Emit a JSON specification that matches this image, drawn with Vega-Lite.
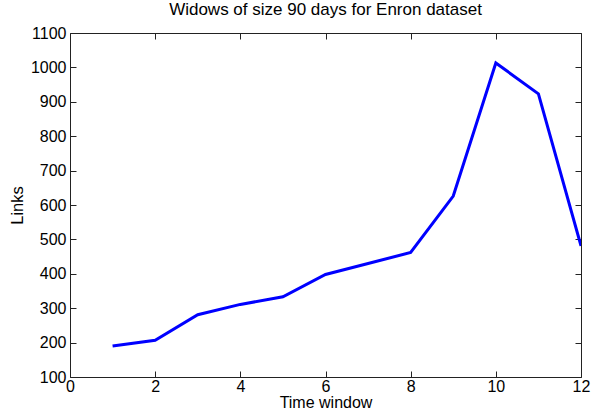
{
  "$schema": "https://vega.github.io/schema/vega-lite/v6.json",
  "width": 511,
  "height": 344,
  "autosize": {"type": "none"},
  "padding": {"left": 70, "top": 33, "right": 11, "bottom": 35},
  "background": "white",
  "config": {
    "view": {"stroke": "#222222", "strokeWidth": 1},
    "font": "Liberation Sans",
    "axis": {
      "grid": false,
      "domain": false,
      "tickColor": "#222222",
      "tickWidth": 1,
      "labelColor": "black",
      "titleColor": "black",
      "labelFont": "Liberation Sans",
      "titleFont": "Liberation Sans",
      "titleFontWeight": "normal",
      "format": "d"
    }
  },
  "title": {
    "text": "Widows of size 90 days for Enron dataset",
    "font": "Liberation Sans",
    "fontSize": 17,
    "fontWeight": "normal",
    "color": "black",
    "offset": 6
  },
  "data": {
    "values": [
      {"window": 1, "links": 190},
      {"window": 2, "links": 207},
      {"window": 3, "links": 281},
      {"window": 4, "links": 311},
      {"window": 5, "links": 333},
      {"window": 6, "links": 398},
      {"window": 7, "links": 430},
      {"window": 8, "links": 462},
      {"window": 9, "links": 626},
      {"window": 10, "links": 1013},
      {"window": 11, "links": 923},
      {"window": 12, "links": 481}
    ]
  },
  "encoding": {
    "x": {"field": "window", "type": "quantitative", "scale": {"domain": [0, 12], "nice": false}},
    "y": {"field": "links", "type": "quantitative", "scale": {"domain": [100, 1100], "nice": false, "zero": false}}
  },
  "layer": [
    {
      "mark": {"type": "line", "color": "#0000ff", "strokeWidth": 3, "clip": true},
      "encoding": {
        "x": {
          "field": "window", "type": "quantitative",
          "axis": {"values": [0, 2, 4, 6, 8, 10, 12], "title": "Time window", "ticks": false, "labelFontSize": 16, "titleFontSize": 16, "labelPadding": 1, "titlePadding": 0, "labelFlush": false}
        },
        "y": {
          "field": "links", "type": "quantitative",
          "axis": {"values": [100, 200, 300, 400, 500, 600, 700, 800, 900, 1000, 1100], "title": "Links", "ticks": false, "labelFontSize": 16, "titleFontSize": 16.5, "labelPadding": 4, "titlePadding": 5, "labelFlush": false}
        }
      }
    },
    {
      "mark": {"type": "line", "opacity": 0},
      "encoding": {
        "x": {
          "field": "window", "type": "quantitative",
          "axis": {"orient": "top", "values": [0, 2, 4, 6, 8, 10, 12], "labels": false, "title": null, "tickSize": 6, "offset": -6}
        },
        "y": {
          "field": "links", "type": "quantitative",
          "axis": {"orient": "right", "values": [100, 200, 300, 400, 500, 600, 700, 800, 900, 1000, 1100], "labels": false, "title": null, "tickSize": 6, "offset": -6}
        }
      }
    },
    {
      "mark": {"type": "line", "opacity": 0},
      "encoding": {
        "x": {
          "field": "window", "type": "quantitative",
          "axis": {"orient": "bottom", "values": [0, 2, 4, 6, 8, 10, 12], "labels": false, "title": null, "tickSize": 6, "offset": -6}
        },
        "y": {
          "field": "links", "type": "quantitative",
          "axis": {"orient": "left", "values": [100, 200, 300, 400, 500, 600, 700, 800, 900, 1000, 1100], "labels": false, "title": null, "tickSize": 6, "offset": -6}
        }
      }
    }
  ],
  "resolve": {"axis": {"x": "independent", "y": "independent"}}
}
